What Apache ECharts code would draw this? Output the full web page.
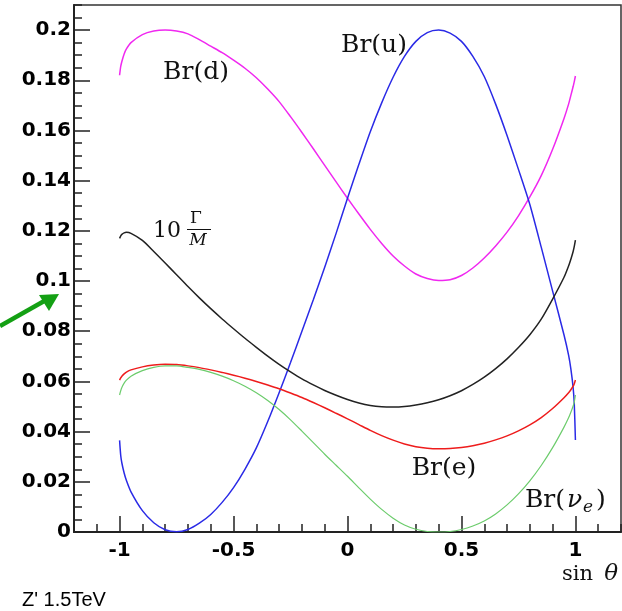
<!DOCTYPE html>
<html>
<head>
<meta charset="utf-8">
<script src="https://cdn.jsdelivr.net/npm/echarts@6/dist/echarts.min.js"></script>
<style>html,body{margin:0;padding:0;background:#fff;}#c{width:622px;height:611px;}</style>
</head>
<body>
<div id="c"></div>
<script>
const sinTheta = [-1, -0.995, -0.99, -0.98, -0.97, -0.95, -0.9, -0.85, -0.8, -0.75, -0.7, -0.65, -0.6, -0.55, -0.5, -0.45, -0.4, -0.35, -0.3, -0.25, -0.2, -0.15, -0.1, -0.05, 0, 0.05, 0.1, 0.15, 0.2, 0.25, 0.3, 0.35, 0.4, 0.45, 0.5, 0.55, 0.6, 0.65, 0.7, 0.75, 0.8, 0.85, 0.9, 0.95, 0.97, 0.98, 0.99, 0.995, 1];
const brD = [0.182, 0.1855, 0.1875, 0.1905, 0.1925, 0.195, 0.1982, 0.1996, 0.2, 0.1996, 0.1985, 0.1962, 0.1936, 0.1910, 0.1880, 0.1848, 0.1810, 0.1765, 0.1715, 0.1655, 0.1592, 0.1527, 0.1461, 0.1395, 0.1330, 0.1267, 0.1206, 0.1150, 0.1100, 0.1060, 0.1028, 0.1010, 0.1002, 0.1005, 0.1022, 0.1052, 0.1092, 0.1140, 0.1195, 0.1260, 0.1335, 0.1420, 0.1525, 0.1648, 0.1705, 0.1740, 0.1775, 0.1795, 0.1817];
const brU = [0.0365, 0.0305, 0.0275, 0.0235, 0.0205, 0.016, 0.0085, 0.0037, 0.0009, 0.0001, 0.001, 0.0035, 0.007, 0.0118, 0.0177, 0.025, 0.0335, 0.044, 0.0555, 0.0675, 0.08, 0.0925, 0.1055, 0.119, 0.133, 0.1465, 0.1595, 0.171, 0.1812, 0.1895, 0.1955, 0.199, 0.2, 0.1988, 0.1955, 0.1895, 0.1815, 0.1705, 0.158, 0.1445, 0.1305, 0.1135, 0.096, 0.0785, 0.0705, 0.065, 0.0575, 0.051, 0.0367];
const width10 = [0.117, 0.118, 0.1186, 0.1192, 0.1194, 0.119, 0.1162, 0.1118, 0.1072, 0.1025, 0.0978, 0.0933, 0.089, 0.0849, 0.081, 0.0772, 0.0736, 0.0701, 0.0668, 0.0638, 0.061, 0.0586, 0.0564, 0.0545, 0.0528, 0.0514, 0.0504, 0.0499, 0.0498, 0.05, 0.0506, 0.0515, 0.0527, 0.0543, 0.0563, 0.0588, 0.0617, 0.0651, 0.069, 0.0735, 0.0786, 0.0848, 0.0928, 0.1015, 0.106, 0.1087, 0.1118, 0.1138, 0.1163];
const brE = [0.0605, 0.0614, 0.0621, 0.063, 0.0637, 0.0646, 0.0658, 0.0665, 0.0668, 0.0667, 0.0662, 0.0655, 0.0646, 0.0636, 0.0625, 0.0613, 0.06, 0.0586, 0.0571, 0.0554, 0.0536, 0.0516, 0.0495, 0.0473, 0.0451, 0.0428, 0.0405, 0.0384, 0.0366, 0.0351, 0.034, 0.0334, 0.0332, 0.0333, 0.0337, 0.0344, 0.0354, 0.0367, 0.0383, 0.0403, 0.0427, 0.0456, 0.0492, 0.0535, 0.0555, 0.0567, 0.0581, 0.0591, 0.0606];
const brNu = [0.0546, 0.0563, 0.0576, 0.0593, 0.0605, 0.0621, 0.0643, 0.0656, 0.0662, 0.0662, 0.0656, 0.0648, 0.0636, 0.0621, 0.0603, 0.0581, 0.0555, 0.0524, 0.0488, 0.0447, 0.0402, 0.0356, 0.031, 0.0266, 0.0222, 0.0176, 0.0131, 0.009, 0.0055, 0.0028, 0.0011, 0.0002, 0.0, 0.0002, 0.001, 0.0024, 0.0044, 0.0072, 0.0108, 0.0152, 0.0204, 0.0265, 0.0336, 0.0418, 0.0455, 0.0477, 0.0502, 0.0518, 0.0546];
const xMajorTicks = [-1, -0.5, 0, 0.5, 1];
const yMajorTicks = [0, 0.02, 0.04, 0.06, 0.08, 0.1, 0.12, 0.14, 0.16, 0.18, 0.2];

const pairs = arr => sinTheta.map((s, i) => [s, arr[i]]);
const chart = echarts.init(document.getElementById('c'), null, {renderer: 'canvas'});
const tickFont = {fontFamily: 'DejaVu Sans', fontWeight: 'bold', fontSize: 20, color: '#000'};

function mkLine(name, data, color, w) {
  return {name, type: 'line', data: pairs(data), xAxisIndex: 0, yAxisIndex: 0,
    showSymbol: false, smooth: 0.25, lineStyle: {color, width: w}, itemStyle: {color}, silent: true, animation: false};
}

chart.setOption({
  animation: false,
  backgroundColor: '#fff',
  grid: {left: 74, right: 1, top: 5, bottom: 79, show: true, borderColor: '#333', borderWidth: 1.5, backgroundColor: 'transparent'},
  xAxis: [
    {type: 'value', position: 'bottom', min: -1.2, max: 1.2, interval: 0.1,
      axisLine: {show: true, onZero: false, lineStyle: {color: '#222', width: 2}},
      axisTick: {show: true, inside: true, length: 8, lineStyle: {color: '#222', width: 1.5}},
      axisLabel: {show: false}, splitLine: {show: false}},
    {type: 'value', position: 'bottom', min: -1.2, max: 1.2,
      axisLine: {show: false, onZero: false},
      axisTick: {show: true, inside: true, length: 16, customValues: xMajorTicks, lineStyle: {color: '#222', width: 1.5}},
      axisLabel: Object.assign({show: true, margin: 9, customValues: xMajorTicks}, tickFont),
      splitLine: {show: false}}
  ],
  yAxis: [
    {type: 'value', position: 'left', min: 0, max: 0.21, interval: 0.005,
      axisLine: {show: true, onZero: false, lineStyle: {color: '#222', width: 2}},
      axisTick: {show: true, inside: true, length: 8, lineStyle: {color: '#222', width: 1.5}},
      axisLabel: {show: false}, splitLine: {show: false}},
    {type: 'value', position: 'left', min: 0, max: 0.21,
      axisLine: {show: false, onZero: false},
      axisTick: {show: true, inside: true, length: 16, customValues: yMajorTicks, lineStyle: {color: '#222', width: 1.5}},
      axisLabel: Object.assign({show: true, margin: 3, customValues: yMajorTicks}, tickFont),
      splitLine: {show: false}}
  ],
  series: [
    mkLine('Br(d)', brD, '#f028f0', 1.5),
    mkLine('Br(u)', brU, '#2a2ae6', 1.5),
    mkLine('10Γ/M', width10, '#222222', 1.5),
    mkLine('Br(e)', brE, '#ee1c1c', 1.5),
    mkLine('Br(νe)', brNu, '#6ccc6c', 1.2)
  ],
  graphic: [
    {type: 'text', x: 196, y: 72, style: {text: 'Br(d)', font: '25px "DejaVu Serif"', fill: '#111', align: 'center', verticalAlign: 'middle'}},
    {type: 'text', x: 374, y: 45, style: {text: 'Br(u)', font: '25px "DejaVu Serif"', fill: '#111', align: 'center', verticalAlign: 'middle'}},
    {type: 'text', x: 444, y: 468, style: {text: 'Br(e)', font: '25px "DejaVu Serif"', fill: '#111', align: 'center', verticalAlign: 'middle'}},
    {type: 'text', x: 525, y: 500, style: {text: 'Br(', font: '25px "DejaVu Serif"', fill: '#111', align: 'left', verticalAlign: 'middle'}},
    {type: 'text', x: 567, y: 500, style: {text: 'ν', font: 'italic 25px "DejaVu Serif"', fill: '#111', align: 'left', verticalAlign: 'middle'}},
    {type: 'text', x: 583, y: 508, style: {text: 'e', font: 'italic 17px "DejaVu Serif"', fill: '#111', align: 'left', verticalAlign: 'middle'}},
    {type: 'text', x: 596, y: 500, style: {text: ')', font: '25px "DejaVu Serif"', fill: '#111', align: 'left', verticalAlign: 'middle'}},
    {type: 'text', x: 153, y: 231, style: {text: '10', font: '22px "DejaVu Serif"', fill: '#111', align: 'left', verticalAlign: 'middle'}},
    {type: 'text', x: 196, y: 219, style: {text: 'Γ', font: '17px "DejaVu Serif"', fill: '#111', align: 'center', verticalAlign: 'middle'}},
    {type: 'line', shape: {x1: 187, y1: 229.5, x2: 211, y2: 229.5}, style: {stroke: '#111', lineWidth: 1}},
    {type: 'text', x: 198, y: 241, style: {text: 'M', font: 'italic 17px "DejaVu Serif"', fill: '#111', align: 'center', verticalAlign: 'middle'}},
    {type: 'text', x: 593, y: 575, style: {text: 'sin', font: '21px "DejaVu Serif"', fill: '#111', align: 'right', verticalAlign: 'middle'}},
    {type: 'text', x: 618, y: 574, style: {text: 'θ', font: 'italic 23px "DejaVu Serif"', fill: '#111', align: 'right', verticalAlign: 'middle'}},
    {type: 'text', x: 22, y: 600, style: {text: "Z' 1.5TeV", font: '20px "Liberation Sans"', fill: '#000', align: 'left', verticalAlign: 'middle'}},
    {type: 'line', shape: {x1: 0, y1: 326, x2: 46, y2: 300}, style: {stroke: '#14a014', lineWidth: 4.5}},
    {type: 'polygon', shape: {points: [[59, 294], [39, 295], [49, 311]]}, style: {fill: '#14a014'}}
  ]
});
</script>
</body>
</html>
